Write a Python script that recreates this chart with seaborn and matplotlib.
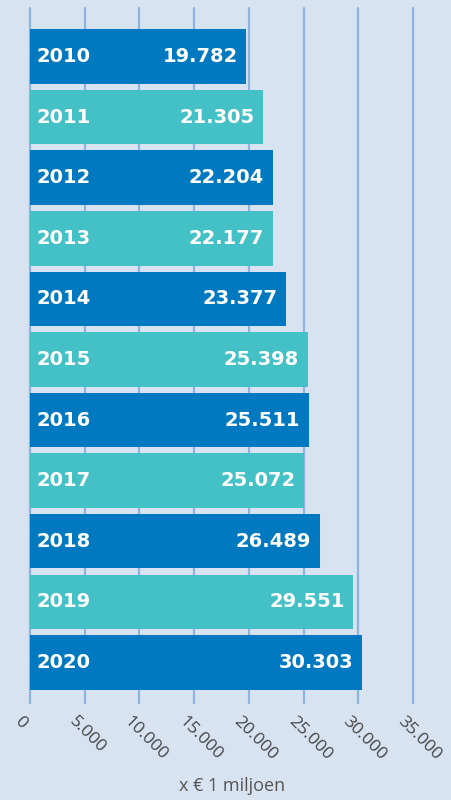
import numpy as np
import pandas as pd
import seaborn as sns
import matplotlib.pyplot as plt
from matplotlib.transforms import ScaledTranslation

years = ['2010', '2011', '2012', '2013', '2014', '2015', '2016', '2017', '2018', '2019', '2020']
values = [19782, 21305, 22204, 22177, 23377, 25398, 25511, 25072, 26489, 29551, 30303]
ticks = [0, 5000, 10000, 15000, 20000, 25000, 30000, 35000]

bg = '#d8e3f2'
dark = '#0079c1'
teal = '#43c1c6'
grid = '#8fb3e0'

def nl(v):
	return f'{v:,.0f}'.replace(',', '.')

sns.set_theme(style='white')
plt.rcParams['font.family'] = ['Open Sans', 'DejaVu Sans']

data = pd.DataFrame({'Jaar': years, 'Waarde': values})
colors = [dark if i % 2 == 0 else teal for i in range(len(years))]

fig = plt.figure(figsize=(4.52, 8), dpi=100, facecolor=bg)
ax = fig.add_axes([30 / 452, 1 - 703 / 800, 383 / 452, 695 / 800])
ax.set_facecolor(bg)

sns.barplot(data=data, x='Waarde', y='Jaar', hue='Jaar', palette=colors, legend=False,
	width=0.9, saturation=1, orient='h', ax=ax, zorder=3, linewidth=0)

ax.set_xlim(0, 35000)
ax.set_ylim(10.67, -0.8)
ax.set_xticks(ticks)
ax.set_xticklabels([])
ax.tick_params(axis='x', length=0)
ax.tick_params(axis='y', length=0, labelleft=False)
for t in ticks:
	ax.axvline(t, color=grid, lw=1.6, zorder=1, clip_on=False)
for s in ax.spines.values():
	s.set_visible(False)
ax.set_xlabel('')
ax.set_ylabel('')

# rotated tick labels, shifted a bit left of the tick like the original
shift = ScaledTranslation(-13 / 100, -16 / 100, fig.dpi_scale_trans)
for t in ticks:
	ax.text(t, 0, nl(t), transform=ax.get_xaxis_transform() + shift, rotation=-45,
		rotation_mode='anchor', ha='left', va='center', fontsize=12.5, color='#444444')

for i, (y, v) in enumerate(zip(years, values)):
	ax.text(600, i, y, color='white', fontsize=14, fontweight='bold', family='DejaVu Sans',
		ha='left', va='center', zorder=4)
	ax.text(v - 800, i, nl(v), color='white', fontsize=14, fontweight='bold', family='DejaVu Sans',
		ha='right', va='center', zorder=4)

fig.text(232 / 452, 1 - 786 / 800, 'x € 1 miljoen', ha='center', va='center',
	fontsize=13, color='#555555')

fig.savefig('out.png', dpi=100, facecolor=bg)
